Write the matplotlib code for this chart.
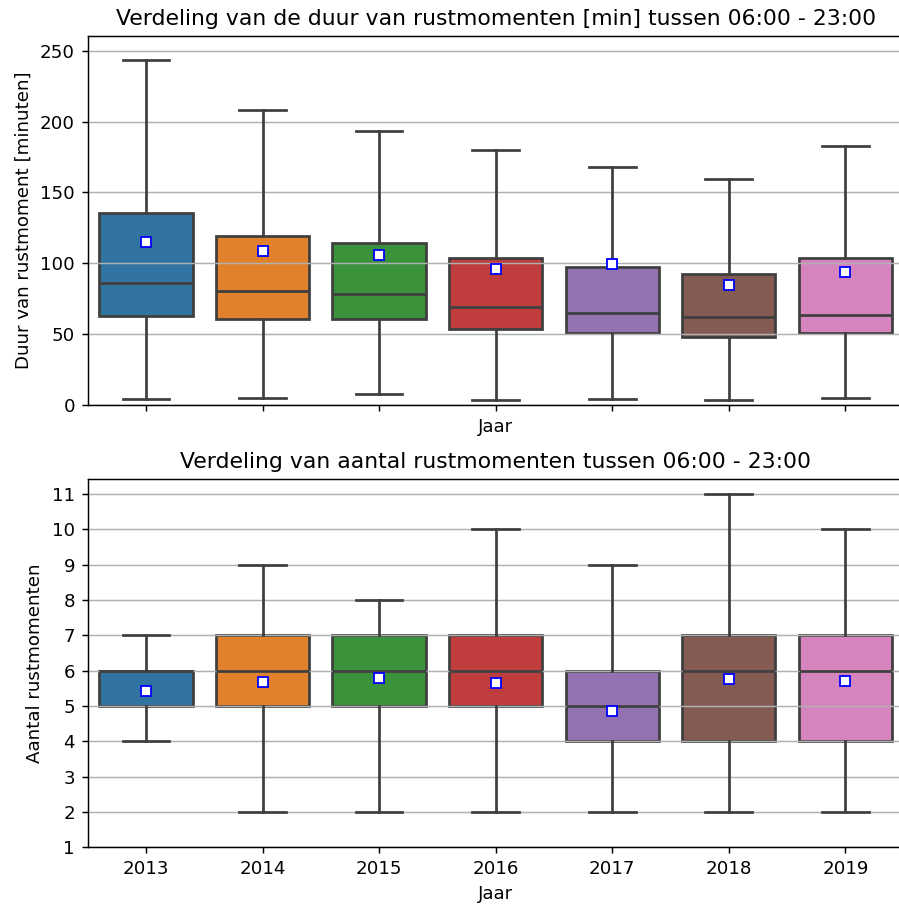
import matplotlib
matplotlib.use('Agg')
import matplotlib.pyplot as plt

years = ['2013', '2014', '2015', '2016', '2017', '2018', '2019']
colors = ['#3274a1', '#e1812c', '#3a923a', '#c03d3e', '#9372b2', '#845b53', '#d684bd']
gray = '#3f3f3f'

# duur van rustmomenten [min]
duur_whislo = [4.0, 5.0, 7.8, 3.3, 4.0, 3.3, 5.0]
duur_q1 = [62.6, 60.5, 60.5, 53.2, 50.8, 47.6, 50.8]
duur_med = [86.0, 80.5, 78.4, 69.2, 64.5, 61.7, 63.3]
duur_q3 = [135.4, 119.4, 114.0, 103.4, 97.0, 92.3, 103.4]
duur_whishi = [243.2, 207.9, 193.1, 179.9, 167.9, 159.4, 182.7]
duur_mean = [115.1, 108.8, 105.7, 95.8, 99.6, 84.5, 93.9]

# aantal rustmomenten
aantal_whislo = [4, 2, 2, 2, 2, 2, 2]
aantal_q1 = [5, 5, 5, 5, 4, 4, 4]
aantal_med = [6, 6, 6, 6, 5, 6, 6]
aantal_q3 = [6, 7, 7, 7, 6, 7, 7]
aantal_whishi = [7, 9, 8, 10, 9, 11, 10]
aantal_mean = [5.44, 5.69, 5.80, 5.66, 4.87, 5.77, 5.70]


def draw_boxes(ax, lo, q1, med, q3, hi, mean):
    stats = []
    for i in range(len(years)):
        stats.append(dict(whislo=lo[i], q1=q1[i], med=med[i], q3=q3[i],
                          whishi=hi[i], mean=mean[i], fliers=[]))
    line = dict(color=gray, linewidth=1.5, zorder=2)
    bp = ax.bxp(stats, positions=range(len(years)), widths=0.8, capwidths=0.4,
                patch_artist=True, showmeans=True, showfliers=False,
                manage_ticks=False,
                boxprops=dict(edgecolor=gray, linewidth=1.5, zorder=0.9),
                whiskerprops=line, capprops=line, medianprops=line,
                meanprops=dict(marker='s', markerfacecolor='white',
                               markeredgecolor='blue', markersize=6, zorder=3))
    for patch, c in zip(bp['boxes'], colors):
        patch.set_facecolor(c)
    ax.set_xticks(range(len(years)))
    ax.set_xlim(-0.5, len(years) - 0.5)
    ax.grid(axis='y')


W, H = 899, 904
dpi = 131.5
fig = plt.figure(figsize=(W / dpi, H / dpi), dpi=dpi)
left = 87.7 / W
width = (903.6 - 87.7) / W
ax1 = fig.add_axes([left, 1 - 404.7 / H, width, (404.7 - 35.7) / H])
ax2 = fig.add_axes([left, 1 - 847.3 / H, width, (847.3 - 479) / H])

draw_boxes(ax1, duur_whislo, duur_q1, duur_med, duur_q3, duur_whishi, duur_mean)
ax1.set_ylim(0, 260.6)
ax1.tick_params(axis='x', labelbottom=False)
ax1.set_xlabel('Jaar')
ax1.set_ylabel('Duur van rustmoment [minuten]')
ax1.set_title('Verdeling van de duur van rustmomenten [min] tussen 06:00 - 23:00')

draw_boxes(ax2, aantal_whislo, aantal_q1, aantal_med, aantal_q3, aantal_whishi, aantal_mean)
ax2.set_ylim(1, 11.43)
ax2.set_yticks(range(1, 12))
ax2.set_xticklabels(years)
ax2.set_xlabel('Jaar')
ax2.set_ylabel('Aantal rustmomenten')
ax2.set_title('Verdeling van aantal rustmomenten tussen 06:00 - 23:00')

fig.savefig('out.png', dpi=dpi)
